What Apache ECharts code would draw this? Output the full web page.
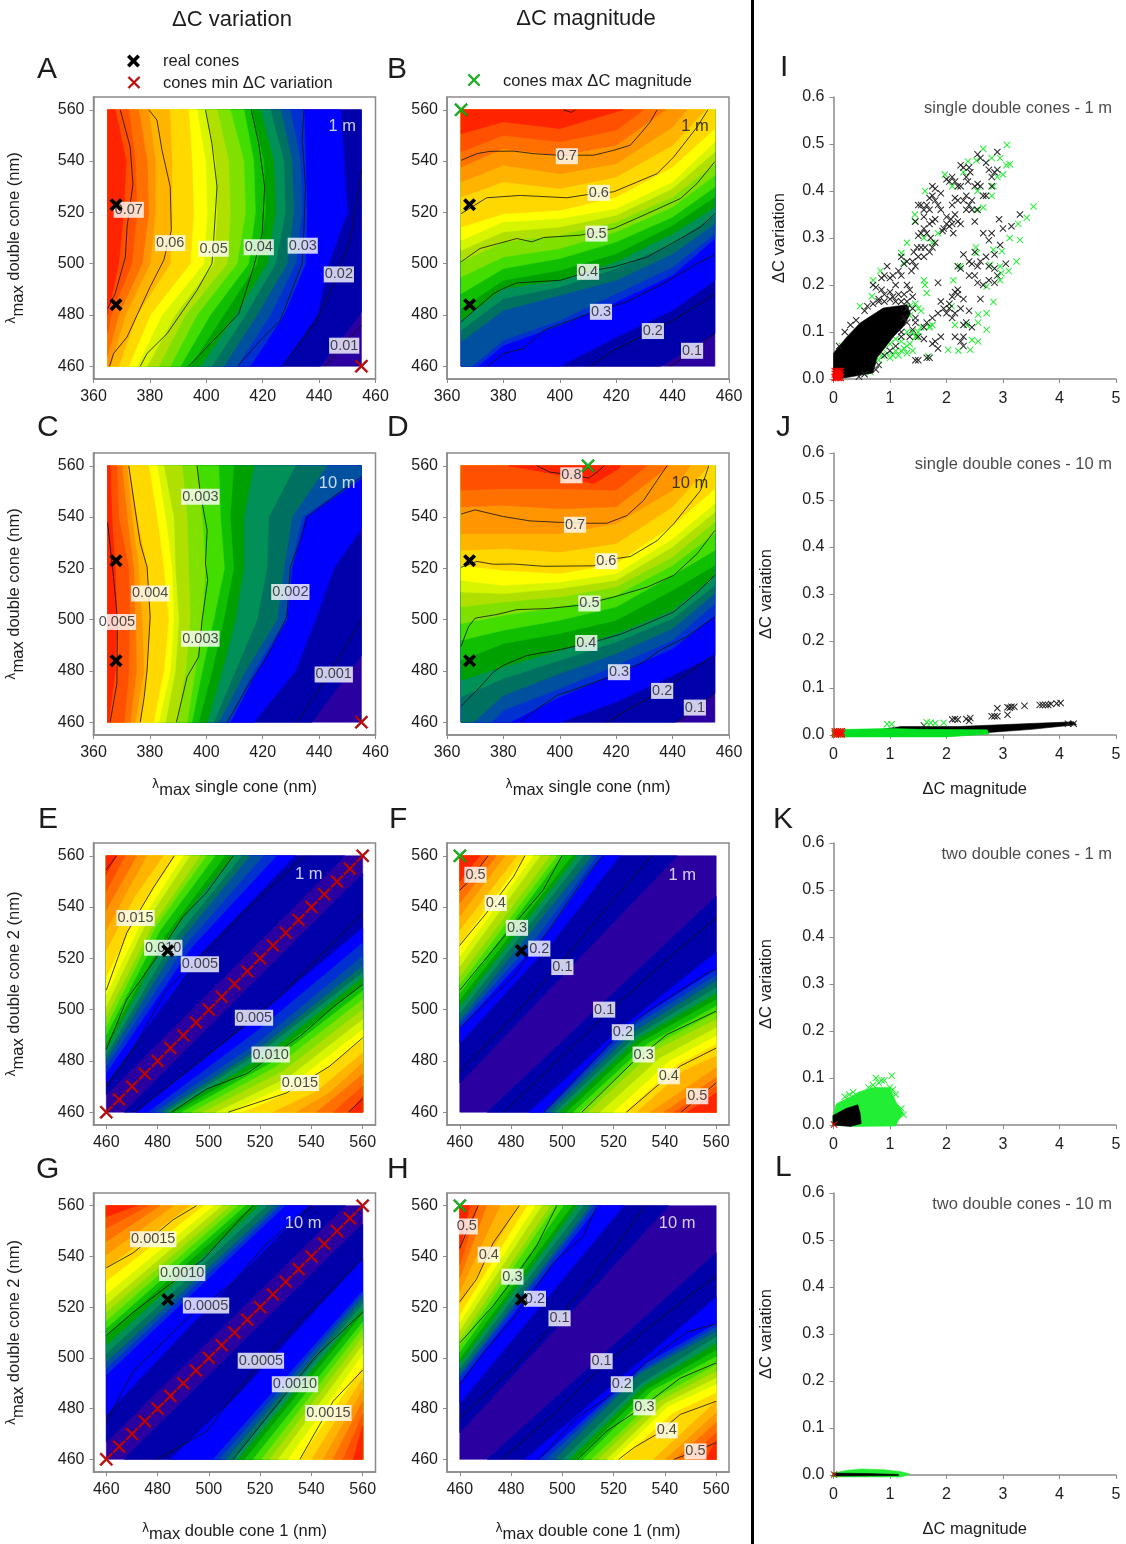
<!DOCTYPE html>
<html><head><meta charset="utf-8">
<style>html,body{margin:0;padding:0;background:#fff}#c{width:1126px;height:1544px}</style>
<script src="https://cdn.jsdelivr.net/npm/echarts@6/dist/echarts.min.js"></script>
</head><body><div id="c"></div>
<script>
// ---------- band colours (high value to low value) ----------
const bandColors=['#ff2400','#ff5000','#ff7000','#ff9500','#ffb400','#ffd800','#ffff00','#d8f500','#b0e000','#80e000','#44dd00','#10c000','#00a000','#009058','#007060','#0050a0','#0030d0','#0000ff','#0000aa','#2a00a0'];
const nmTicksSingle=[360,380,400,420,440,460];
const nmTicksDouble=[460,480,500,520,540,560];
const dcMagTicks=[0,1,2,3,4,5];
const dcVarTicks=[0,0.1,0.2,0.3,0.4,0.5,0.6];

// ---------- Panel A: x of each band boundary at y = 560..460 ----------
const A_rows=[560,540,520,500,480,460];
const A_bands=[
[367.7,371.6,370.7,368.9,365,null],
[372.5,374.8,375.4,373.6,366.2,[365,473]],
[376,379,379.6,377.2,368.9,[365,464]],
[379.5,381.9,381.9,380.1,371.3,366],
[387,387.8,387.8,387.2,375.4,368.9],
[393.7,394.9,395.5,394.3,380.1,372.5],
[396.7,399.7,400.3,399.1,384.3,375.4],
[399.7,403.2,403.8,402.6,389,379],
[403.8,407.9,408.5,407.4,392.6,383.1],
[408.5,413.3,413.9,410.9,396.7,387.2],
[413.3,416.8,417.4,415,401.4,390.8],
[415.9,420.4,421,418,406.2,394.3],
[419.2,423.9,424.5,421.5,410.3,397.9],
[422.7,427.5,428,424.5,413.9,402],
[426.3,430.4,431,428.6,418,406.2],
[429.8,433.4,434,431.6,422.7,410.9],
[434.6,435.2,435.7,435.2,427.5,415.6],
[447.6,448.8,450,443.4,439.3,426.9],
[null,null,null,null,[455,481],440.5]];
const A_lines=[
[[369.5,560],[373,545.5],[374,531],[371.9,514.3],[371.3,502.6],[367.7,488.3],[365,482.5]],
[[379.6,560],[382.5,556],[384.3,544.2],[387.2,530],[387.6,513],[384.9,501.3],[380.1,491],[371.9,471.4],[367.1,464.9],[365.7,460]],
[[399.7,560],[402,546.8],[403.8,530],[402.6,509],[402,500],[396.7,489.6],[386.1,472.7],[379,465],[376.6,460]],
[[415.9,560],[418.6,546.8],[420.7,530],[419.8,511.7],[416.8,498.7],[411.5,480.5],[402.6,470.1],[393.7,460]],
[[434.6,560],[434,548],[435.2,530],[434.6,513],[434,500],[426.3,478],[419.2,470.1],[411.1,460]],
[[455,536.4],[451.1,509],[445.2,492.2],[439.3,478],[426.9,460]],
[[442.3,460],[455,476]]];
const A_labels=[[372.5,521,'0.07'],[387.2,508,'0.06'],[402.6,505.8,'0.05'],[418.6,506.4,'0.04'],[434.2,507,'0.03'],[447,495.8,'0.02'],[448.9,468,'0.01']];

// ---------- Panel B: y of each band boundary at x = 365..455 ----------
const B_cols=[365,380,400,420,440,455];
const B_bands=[
[550.7,555.3,552.7,559.2,[422.5,560],null],
[543.6,550.1,547.5,552,[429.8,560],null],
[537.7,544.9,542.3,546.2,[437.5,560],null],
[531.9,538.4,535.1,539,553.3,[445,560]],
[526,531.9,529.3,533.8,546.2,[451.7,560]],
[514.3,519.5,520.8,526,537.7,552.7],
[509.1,516.3,517.6,521.5,531.9,547.5],
[505.2,512.4,514.3,518.9,529.3,543.6],
[500.7,508.5,511.1,516.3,526,539],
[494.8,502.6,505.9,512.4,522.1,534.5],
[488.3,498.1,502,508.5,518.2,529.9],
[482.5,493.5,497.4,503.9,515,526],
[477.9,490.3,493.5,500.7,511.7,522.1],
[474,486.4,490.9,498.1,507.8,518.9],
[469.5,481.8,487.7,493.5,503.9,515.6],
[[368.8,460],470.1,477.9,488.3,498.7,511.7],
[[371,460],468.2,476,485.1,495.5,509.8],
[null,null,[400,460],471.4,481.8,493.5],
[null,null,null,null,[435.7,460],472.7]];
const B_lines=[
[[365,540.3],[370.6,542.9],[375.3,543.8],[383.6,543.9],[390.7,542.9],[399,542.3],[412,542.3],[419.1,544.2],[425,546.2],[428.6,550.7],[432.1,555.3],[434.5,560]],
[[365,519.5],[374.1,525.7],[386,526.6],[402.5,525.7],[412,527.3],[419.1,528],[434.5,535.1],[440.4,541.6],[448.7,553.3],[452.5,560]],
[[365,500.7],[371.7,505.9],[384.8,509.8],[390.1,508.5],[394.3,510.2],[407.3,511.1],[419.1,513.7],[431,519.5],[442.8,525.4],[448.7,531.3],[455,539.8]],
[[365,477.3],[376.5,488.3],[380,490.3],[384.8,492.5],[400.2,493.5],[412,497.4],[419.1,498.7],[431,502.6],[442.8,509.8],[449.9,514.3],[455,519.5]],
[[374.5,460],[380,464.9],[387.1,466.9],[394.3,474],[402.5,477.3],[412,481.2],[423.8,485.1],[436.8,492.3],[448.7,500],[455,503.5]],
[[411,460],[419.1,466.2],[428.6,471.4],[439.2,477.3],[448.7,483.8],[455,488.3]],
[[439.2,460],[445.7,464.9],[455,472.7]],
[[401.2,560],[404.1,559],[405.5,560]]];
const B_labels=[[402.5,541.9,'0.7'],[413.8,527.6,'0.6'],[413,511.7,'0.5'],[410,496.8,'0.4'],[414.6,481.2,'0.3'],[433,473.7,'0.2'],[446.9,466,'0.1']];

// ---------- Panel C ----------
const C_rows=[560,540,520,500,480,460];
const C_bands=[
[365.9,366.5,367.7,368.3,367.7,365.4],
[368.3,368.9,372.5,372.8,372.5,370.9],
[370.1,371.9,374.2,374.8,375.2,373],
[371.9,373.6,376,377.2,377.8,374.8],
[372.5,375.4,379,380.1,379,376.6],
[379.6,382.5,384.9,386.6,384.9,381.3],
[382.5,385.5,387.8,388.4,387.2,383.1],
[384.9,388.4,389,390.2,389,385.5],
[391.4,393.2,393.7,394.3,392.6,389.6],
[396.7,398.5,399.7,398.5,396.1,393.2],
[404.4,405,406.4,402.6,398.5,394.9],
[409.7,408.5,409.7,406.2,402,397.3],
[416.8,413.3,413.3,410.3,405.6,400.3],
[431.6,422.1,421.5,418,410.3,402.6],
[442.8,430.4,427.5,425.1,413.9,404.4],
[[455,556],434,429.8,428,416.8,407.6],
[[455,555],435.2,430.4,428.6,418,408.5],
[null,[455,535.5],445.2,438.7,431.6,416.8],
[null,null,null,null,[455,486],437.5]];
const C_lines=[
[[365,537.9],[367.1,516.7],[368.5,500],[368.3,475.1],[365.9,460]],
[[372.5,560],[374.8,542.7],[376.6,529.7],[379,520.6],[380.1,501.1],[379,480.3],[378,469.9],[376.6,460]],
[[396.7,560],[397.9,549.2],[400.3,534.9],[399.7,521.9],[400.5,515.4],[398.5,499.8],[397.3,485.5],[393.2,477.7],[389.4,460]],
[[455,555.7],[445.2,547.9],[435.7,540.1],[433.4,531],[429.8,520.6],[428.6,501.1],[421.5,485.5],[414.5,473.8],[407.4,460]],
[[455,499.8],[448.8,488.1],[440.5,473.8],[432.2,460]]];
const C_labels=[[397.9,547.9,'0.003'],[380.1,510.2,'0.004'],[368.3,499.1,'0.005'],[397.9,492.5,'0.003'],[429.8,510.8,'0.002'],[445.2,478.6,'0.001']];

// ---------- Panel D ----------
const D_cols=[365,380,400,420,440,455];
const D_bands=[
[[381.8,560],[392,558],[402,556],[412,553],[421,559],[421.5,560]],
[550.5,551.1,551.1,550.5,[431,560],null],
[544,544.6,543.3,544,[438.9,560],null],
[533.6,533.6,533.6,537.5,550.5,[446.3,560]],
[527.1,527.7,526.4,529.7,544,[452.9,560]],
[521.2,519.3,518,521.9,536.8,551.1],
[515.4,513.4,514.7,518,531.6,545.3],
[510.8,510.2,512.1,515.4,528.4,542],
[505,506.9,508.9,512.8,524.5,538.1],
[498.5,501.7,505,509.5,521.2,533.6],
[492,495.9,499.8,505,517.3,527.1],
[484.2,490.7,494.6,499.8,511.5,521.2],
[476.4,481.6,488.1,494.6,503.7,517.3],
[469.9,477,484.2,491.3,500.4,513.4],
[[369.4,460],470.5,479,486.8,496.5,510.2],
[[375.9,460],464.7,473.1,482.2,492,506.3],
[[382.4,460],null,469.9,479,488.7,501.7],
[null,null,[400,460],467.9,478.3,486.1],
[null,null,null,null,[441,460],471.2]];
const D_lines=[
[[391.9,560],[396.6,557.5],[403.7,556.6],[410.3,555.2],[413.2,557.5],[415.8,560]],
[[365,541.2],[370,542.8],[380,540.2],[389.5,538.5],[399,538],[409.6,537.6],[416.7,537.6],[423.8,540.6],[429.7,546.5],[434.5,554.3],[438,560]],
[[365,520.4],[370.6,522.7],[376.5,521.6],[383.6,521.7],[394.3,520.8],[412,521],[419.1,523.7],[425,524.6],[434.5,530.8],[440.4,537.4],[449.9,550.4],[452.8,560]],
[[365,489.6],[367.6,497.2],[370,500.6],[377.7,502],[384.8,503.9],[395.4,504.3],[407.3,505.6],[419.1,508.8],[431,512.7],[440.4,517.3],[448.7,525.7],[455,534.8]],
[[365,466.2],[371.7,473.7],[376.5,479.6],[380,482.2],[388.3,486],[400.2,488.3],[412,491.3],[421.5,494.3],[431,498.5],[440.4,503],[448.7,510.6],[455,517.3]],
[[386.2,460],[392.1,465.3],[399.2,470.5],[411,475],[419.1,478.3],[429.7,483.5],[435.6,488.1],[445,493.3],[455,501.1]],
[[416.7,460],[423.8,464.7],[436.8,472.5],[448.7,481.6],[455,486.5]],
[[441.6,460],[448.7,465.3],[455,471.4]]];
const D_labels=[[404.1,556.3,'0.8'],[405.4,537,'0.7'],[416.5,522.8,'0.6'],[410.5,506.3,'0.5'],[409.4,490.9,'0.4'],[421,479.5,'0.3'],[436.3,472.2,'0.2'],[447.9,465.7,'0.1']];

// ---------- Panel E: [x on top, mid x, mid y, ..., y on left] and [x on bottom, mid x, mid y, ..., y on right] ----------
const E_upper=[[464,552.7],[467.3,546.2],[471.8,539],[475.7,531.2],[482.2,471,544,523.4],[486.8,473,539,513],[490,475,537,505.9],[492.6,476,535,501.3],[496.5,478,533,497.4],[499,479,532,493.5],[502.4,481,531,490.3],[506.3,483,529,487],[509.5,490,536,479,520,484.4],[512.8,486,527,482.5],[516,488,526,480.5],[521.2,491,525.5,478],[526.4,493,524,475.3],[533.6,497,522,471.4],[553,466.8]];
const E_lower=[[555,466.2],[548.5,470.1],[542,474.7],[534.2,547,467.5,479.2],[525.1,542,468,483.1],[513.4,536,469.5,488.3],[508.2,534,472,492.2],[503,531,473.5,496.1],[497.8,529,476,500],[493.3,526,477.5,503.9],[489.4,524,479,507.2],[486.8,523,480.5,509.8],[484.8,522,482,512.4],[483.3,521,484,514.3],[481.6,520,485,516.9],[479,519,487,520.8],[476.4,518,491,526],[471.8,515,494,531.9],[466.9,553]];
const E_lines=[
[[464,560],[460,554.6]],
[[486.5,560],[478.3,547.5],[468,530],[460,507.6]],
[[509.5,560],[499,545.5],[490,536.4],[479,519.5],[468,504],[460,484.5]],
[[537.5,560],[516,540.2],[496.5,520.8],[483.5,507.8],[470.5,484.4],[460,470.1]],
[[554.4,460],[560,465.2]],
[[507.6,460],[530.3,467.5],[547.2,478],[560,489]],
[[485.5,460],[499,469],[514.7,475],[535.5,489.6],[548.5,501],[560,509.8]],
[[471.2,460],[499,481.8],[526.4,504],[560,537.7]]];
const E_labels=[[471.4,535.7,'0.015'],[482.2,524.1,'0.010'],[496.5,517.7,'0.005'],[517.6,496.8,'0.005'],[524.1,482.5,'0.010'],[535.5,471.4,'0.015']];

// ---------- Panel F ----------
const F_upper=[[467.8,550],[471.1,546.2],[474.3,541.6],[477.6,536.4],[482.2,531.2],[485.4,525.4],[488.7,520.8],[491.3,516.9],[495.2,513],[497.8,509.8],[499.8,506.5],[503.7,503.9],[505.6,501.3],[508.2,498.7],[511.5,496.1],[513.5,492,531,494.6],[515.4,494,530,492.9],[522.3,497,527.5,487],[544.8,471.4]];
const F_lower=[[548.7,467.5],[543.5,470.1],[539.5,473.4],[534.3,477.3],[529.1,547,476,481.8],[524.5,545,478.5,486.4],[520,542,480,489.6],[514.8,538,481,492.9],[510.2,536,484,496.1],[506.9,534,485,498.7],[504.3,533,486.5,501.3],[501.7,531,487.5,503.9],[499.1,530,489,506.2],[497.2,529,490,508.5],[495.2,528,491.5,511.1],[493.5,527,493,513.3],[492.6,526,494,515.6],[487,522,492,522.4],[470.7,544.2]];
const F_lines=[
[[471.1,560],[462.9,549.4],[460,546.6]],
[[485.4,560],[480.9,551.8],[470.4,537.7],[460,525.1]],
[[499.8,560],[492.6,546.8],[486,539],[473,523.4],[460,507.6]],
[[515.7,560],[508.2,550.7],[493.9,530],[480.9,513],[471.7,504],[460,492.9]],
[[535,560],[520,543],[501.7,520.8],[480.9,497.4],[460,475.7]],
[[546.3,460],[560,471.4]],
[[525,460],[546,478],[560,485]],
[[507.6,460],[527,479],[540.8,490.3],[560,499.4]],
[[492.9,460],[520,488.3],[534.3,500],[556.5,514.3],[560,515.6]],
[[477.2,460],[512,493.5],[540.8,519.5],[560,535.8]]];
const F_labels=[[466.1,552.6,'0.5'],[474,541.6,'0.4'],[482.3,531.9,'0.3'],[491,523.8,'0.2'],[500,516.6,'0.1'],[516.3,500,'0.1'],[523.6,491.2,'0.2'],[531.7,482.5,'0.3'],[541.5,474,'0.4'],[552.6,466.2,'0.5']];

// ---------- Panel G ----------
const G_upper=[[471.8,555.7],[476.4,551.1],[480.9,545.9],[486.1,540.7],[492.6,535.5],[497.8,530.3],[501.7,525.1],[505,521.2],[508.2,518],[511.1,514.7],[514.1,511.7],[516.7,508.9],[519.3,505],[522.5,501.7],[525.8,498.5],[527.7,495.9],[529.7,493.3],[538.8,492,512,477.7],[553.2,466.8]];
const G_lower=[[556.3,473.1],[552.4,477.7],[548.5,482.9],[544.6,487.4],[540.1,492],[535.5,496.5],[531,501.1],[527.1,505],[523.8,508.2],[520.6,511.5],[517.3,514.1],[514.1,517.3],[511.5,519.3],[509.5,521.2],[506.9,523.2],[504.3,525.1],[501.7,526.4],[484.8,512,486,538.8],[466.9,552.8]];
const G_lines=[
[[495.2,560],[486,554.4],[470.5,541.4],[460,535.5]],
[[517.3,560],[509.5,551.8],[497.8,538.8],[482.2,527],[470.5,518],[460,508.9]],
[[540,560],[522.5,545],[509.5,529.7],[491.3,515.4],[470.5,494.6],[460,475]],
[[535.5,460],[543.3,473.8],[548.5,482.9],[560,495.2]],
[[509.5,460],[522.5,476.4],[531.6,488],[542,501],[560,518]],
[[479.6,460],[499,471],[512,488],[525,503.7],[560,539.4]]];
const G_labels=[[478.3,546.8,'0.0015'],[489.6,533.5,'0.0010'],[498.9,520.6,'0.0005'],[520.3,498.9,'0.0005'],[533.6,489.6,'0.0010'],[546.6,478.3,'0.0015']];

// ---------- Panel H ----------
const H_upper=[[463.9,542.7],[467.2,536.8],[470.4,531.6],[475.6,526.4],[482.8,521.2],[486.1,517.3],[489.3,514.1],[491.9,510.8],[495.2,507.6],[497.2,505],[500.4,502.4],[503.7,499.8],[505.6,497.8],[508.2,495.9],[510.9,493.9],[512.2,492.6],[514.1,490.7],[523.9,482.2],[541.5,470.5]];
const H_lower=[[555.8,467.3],[549.3,470.5],[544.1,474.4],[540.2,478.3],[535.6,482.9],[523.2,543,478,486.1],[520,541,480.5,489.4],[517.4,540,482,492],[514.1,538,483,494.6],[511.5,537,484.5,497.2],[508.2,535,487,500.4],[505.6,533,487.5,503],[503,532,489,505.6],[500.4,531,490,508.2],[497.2,530,493.5,510.2],[493.9,530,494.5,512.1],[491.3,533,498,513.4],[485.4,523.8],[470.7,541.4]];
const H_lines=[
[[467.2,560],[463.6,551.8],[460,543.3]],
[[483.2,560],[473,545.3],[466.5,531],[460,522.2]],
[[497.8,560],[489.9,544],[480.9,531],[473,520.6],[460,505.9]],
[[513.5,560],[508.2,547.9],[496.5,537.5],[480.9,515.4],[470.4,503.6],[460,489.6]],
[[532.4,560],[513.5,533.6],[493.9,510.2],[480.9,495.9],[460,476.4]],
[[543.5,460],[552.6,463.4],[560,466.6]],
[[522,460],[528,464.7],[537,470],[546,477.7],[560,482.9]],
[[506,460],[517.4,471.2],[529,479],[546,492],[560,498]],
[[491,460],[505.6,476.4],[517.4,484.2],[533,498.5],[548.7,510.2],[560,513.4]],
[[476.3,460],[496.5,477.7],[512.2,493.3],[533,511.5],[560,532.5]]];
const H_labels=[[462.7,551.8,'0.5'],[471.3,540.7,'0.4'],[480.5,532,'0.3'],[489.3,523.3,'0.2'],[498.9,515.6,'0.1'],[515.3,498.7,'0.1'],[523.2,489.6,'0.2'],[532,480.5,'0.3'],[540.7,471.4,'0.4'],[551.9,463.1,'0.5']];

// ---------- cone markers ----------
const realSingle=[[368,523],[368,484]];
const realDouble=[[484,523]];
const minSingle=[[455,460]];
const minDouble=[[460,460],[465,465],[470,470],[475,475],[480,480],[485,485],[490,490],[495,495],[500,500],[505,505],[510,510],[515,515],[520,520],[525,525],[530,530],[535,535],[540,540],[545,545],[550,550],[555,555],[560,560]];
const maxB=[[365,560]];
const maxD=[[410,560]];
const maxFH=[[460,560]];

// ---------- scatter panels (magnitude, variation) ----------
const I_green=[[3.07,0.498],[2.65,0.49],[2.95,0.47],[2.8,0.47],[3.12,0.457],[3.06,0.455],[2.53,0.465],[2.38,0.463],[3,0.435],[2.9,0.43],[2.83,0.41],[2.8,0.39],[2.65,0.365],[2.53,0.36],[1.97,0.435],[1.62,0.4],[1.44,0.35],[1.44,0.335],[1.6,0.3],[1.2,0.268],[1.24,0.247],[0.83,0.23],[1.6,0.21],[1.62,0.2],[1.65,0.183],[0.7,0.21],[0.68,0.176],[0.47,0.155],[2.52,0.28],[2.53,0.268],[2.83,0.275],[2.98,0.272],[2.77,0.243],[2.95,0.24],[3.1,0.23],[3.24,0.25],[2.97,0.225],[2.95,0.21],[2.71,0.197],[2.83,0.164],[2.71,0.14],[2.56,0.137],[2.56,0.12],[2.71,0.105],[2.36,0.115],[2.15,0.115],[2.45,0.083],[2.56,0.08],[2.42,0.062],[2.21,0.06],[2.03,0.062],[1.68,0.048],[1.47,0.09],[1.7,0.112],[2.09,0.155],[2.12,0.21],[2.24,0.24],[3.27,0.33],[3.42,0.343],[3.54,0.367],[3.12,0.3],[3.3,0.296],[2.1,0.41],[2.3,0.44],[2.55,0.4],[1.75,0.29],[1.85,0.31],[1.3,0.29],
[0.5,0.02],[0.65,0.015],[0.8,0.04],[0.85,0.05],[0.95,0.055],[1,0.045],[1.05,0.05],[1.1,0.06],[1.15,0.05],[1.2,0.06],[1.25,0.065],[1.3,0.055],[1.3,0.07],[1.35,0.075],[1.4,0.06],[1.45,0.09],[1.5,0.1],[1.55,0.11],[1.7,0.11],[1.75,0.115],[1.3,0.1],[1.4,0.1],[0.9,0.07],[1,0.075],[1.1,0.085],[1.2,0.08],[1.35,0.135],[1.35,0.155],[1.55,0.145],[1.45,0.16],[1.5,0.15],[0.15,0.07]];
const I_black=[[2.55,0.478],[2.9,0.483],[2.6,0.47],[2.85,0.44],[2.9,0.445],[2.75,0.445],[2.25,0.455],[2.3,0.45],[2.4,0.45],[2.42,0.44],[2.35,0.43],[2.38,0.42],[2.7,0.46],[2.8,0.43],[2.55,0.415],[2.6,0.41],[2.5,0.41],[2.65,0.39],[2.7,0.39],[2.8,0.41],[2.1,0.43],[2.15,0.42],[2,0.425],[2.05,0.42],[2.2,0.41],[2.25,0.41],[1.75,0.41],[1.8,0.405],[1.7,0.385],[1.75,0.39],[1.8,0.38],[1.85,0.37],[1.9,0.395],[1.65,0.37],[1.7,0.36],[1.6,0.36],[1.5,0.37],[1.55,0.37],[1.6,0.345],[1.45,0.335],[2.1,0.37],[2.15,0.385],[2.2,0.38],[2.3,0.38],[2.35,0.39],[2.4,0.37],[2.45,0.38],[2.35,0.36],[2.45,0.36],[2.55,0.36],[2.5,0.335],[2,0.33],[2.05,0.325],[2.1,0.33],[2.08,0.34],[2.12,0.31],[1.95,0.32],[1.93,0.315],[2.2,0.335],[2.25,0.33],[2.15,0.35],[1.7,0.33],[1.75,0.335],[1.8,0.34],[1.72,0.3],[1.6,0.32],[1.65,0.31],[1.55,0.31],[1.5,0.305],[1.9,0.36],[2,0.345],[1.8,0.29],[1.7,0.27],[1.75,0.28],[1.62,0.28],[1.55,0.28],[1.48,0.28],[1.42,0.27],[1.4,0.25],[1.45,0.24],[1.38,0.23],[1.5,0.26],[1.6,0.26],[1.2,0.26],[1.25,0.245],[1.3,0.25],[1.15,0.23],[1.2,0.22],[0.95,0.24],[0.9,0.22],[0.85,0.215],[1,0.215],[1.1,0.2],[1.05,0.22],[0.7,0.2],[0.75,0.195],[0.85,0.19],[1.3,0.2],[1.35,0.19],[1.4,0.175],[1.25,0.18],[1.15,0.18],
[3.3,0.35],[3.15,0.325],[3,0.32],[2.93,0.34],[2.65,0.31],[2.8,0.31],[2.75,0.295],[2.95,0.285],[2.3,0.265],[2.7,0.26],[2.85,0.265],[2.5,0.27],[2.4,0.25],[2.45,0.245],[2.55,0.24],[2.25,0.235],[2.2,0.24],[2.4,0.22],[2.5,0.22],[2.6,0.25],[2.75,0.24],[2.85,0.235],[3.05,0.245],[2.9,0.22],[2.55,0.205],[2.65,0.2],[2.75,0.21],[2.85,0.205],[2.6,0.17],[2.2,0.19],[2.15,0.185],[2.1,0.175],[2.2,0.18],[2.05,0.16],[2.3,0.17],[2.25,0.15],[1.85,0.205],[1.9,0.165],[1.95,0.15],[2,0.14],[2.05,0.15],[1.85,0.14],[1.75,0.13],[2.15,0.14],[2.1,0.13],[2.4,0.145],[2.45,0.11],[2.35,0.12],[2.3,0.115],[2.15,0.09],[2.3,0.09],[2.25,0.08],[2.3,0.07],[1.9,0.09],[1.85,0.065],[1.8,0.08],[1.75,0.075],[1.6,0.11],[1.65,0.12],[1.45,0.12],[1.5,0.09],[1.6,0.085],[1.45,0.04],[1.5,0.04],[1.65,0.045],[1.7,0.045],[1.35,0.09],[1.4,0.105],[1.25,0.13],[1.3,0.15],[1.2,0.1],
[0.1,0.07],[0.2,0.1],[0.3,0.115],[0.4,0.125],[0.55,0.145],[0.6,0.155],[0.7,0.16],[0.8,0.165],[0.9,0.165],[1,0.17],[1.1,0.165],[1.2,0.165],[1.3,0.165],[1.4,0.15],[1.45,0.13],[1.3,0.12],[1.2,0.09],[1.1,0.07],[1,0.06],[0.9,0.05],[0.8,0.03],[0.75,0.02],[0.55,0.01],[0.45,0.005],[0.9,0.18],[1,0.185],[1.05,0.175],[0.8,0.17]];
const I_cloud=[[0,0],[0,0.055],[0.24,0.09],[0.47,0.119],[0.88,0.151],[1.3,0.158],[1.36,0.14],[1.24,0.112],[1.06,0.09],[0.77,0.045],[0.7,0.013],[0.18,0.002]];
const I_red=[[0.03,0.003],[0.06,0.003],[0.09,0.003],[0.12,0.003],[0.03,0.01],[0.06,0.01],[0.09,0.01],[0.12,0.01],[0.03,0.016],[0.06,0.016],[0.09,0.016],[0.12,0.016]];
const J_black=[[3.85,0.066],[3.95,0.067],[4.02,0.068],[3.65,0.064],[3.7,0.064],[3.75,0.064],[3.8,0.064],[3.38,0.062],[3.2,0.06],[3.15,0.06],[3.08,0.059],[3.12,0.058],[2.9,0.057],[3.08,0.043],[2.8,0.04],[2.85,0.04],[2.9,0.04],[2.1,0.033],[2.15,0.034],[2.2,0.033],[2.35,0.034],[2.42,0.036],[2.4,0.03],[1.6,0.02],[4.25,0.024],[4.15,0.024]];
const J_green=[[0.95,0.023],[1.03,0.023],[1.65,0.027],[1.72,0.026],[1.8,0.025],[1.95,0.026]];
const J_blackBand=[[0.5,0.006],[1.2,0.018],[2.2,0.018],[3.6,0.025],[4.25,0.028],[4.3,0.022],[3.5,0.012],[2.7,0.005],[0.5,0.002]];
const J_greenBand=[[-0.02,0.012],[0.3,0.012],[1,0.014],[1.5,0.012],[2.72,0.011],[2.75,0.002],[2,-0.004],[-0.02,-0.004]];
const J_red=[[0.03,0.002],[0.07,0.002],[0.11,0.002],[0.14,0.002],[0.03,0.007],[0.07,0.007],[0.11,0.007],[0.14,0.007]];
const K_greenArea=[[-0.01,0],[-0.01,0.02],[0.05,0.045],[0.3,0.06],[0.45,0.07],[0.7,0.08],[1,0.08],[1.1,0.05],[1.24,0.025],[1.15,0.01],[1.1,-0.002],[0.4,-0.003]];
const K_green=[[1.03,0.105],[0.75,0.1],[0.85,0.095],[0.9,0.095],[0.8,0.09],[0.7,0.085],[0.62,0.08],[1,0.08],[1.05,0.075],[1.1,0.065],[0.35,0.07],[0.28,0.065],[0.2,0.06],[1.24,0.022],[1.2,0.035]];
const K_blackArea=[[-0.01,0],[-0.01,0.02],[0.22,0.035],[0.43,0.043],[0.47,0.025],[0.49,0.003],[0.3,-0.003]];
const K_red=[[0.01,0.001]];
const L_greenArea=[[-0.01,0.004],[0.25,0.01],[0.5,0.013],[0.9,0.011],[1.2,0.007],[1.35,0.002],[1.2,-0.004],[-0.01,-0.004]];
const L_blackArea=[[-0.01,0.004],[0.6,0.003],[1.15,0.001],[1.15,-0.001],[-0.01,-0.002]];
const L_red=[[0.01,0.001]];

// ---------- helpers ----------
const FONT='"Liberation Sans", Arial, sans-serif';
const TXT='#1c1c1c', GRAY='#8a8a8a';
const XTHICK='path://M2,0L5,3L8,0L10,2L7,5L10,8L8,10L5,7L2,10L0,8L3,5L0,2Z';
const XTHIN='path://M1,0L5,4L9,0L10,1L6,5L10,9L9,10L5,6L1,10L0,9L4,5L0,1Z';

function tableCurve(row,fixed,isRows){
  const out=[];
  row.forEach((v,i)=>{
    if(v===null)return;
    if(Array.isArray(v))out.push(v);
    else out.push(isRows?[v,fixed[i]]:[fixed[i],v]);
  });
  return out;
}
function closeHigh(pts,b){
  const W=b.x1-b.x0,H=b.y1-b.y0;
  const snap=p=>{
    const d=[Math.abs(p[0]-b.x0),Math.abs(p[1]-b.y1),Math.abs(p[0]-b.x1),Math.abs(p[1]-b.y0)];
    const m=d.indexOf(Math.min(...d));
    if(m===0)return (p[1]-b.y0)/H;
    if(m===1)return 1+(p[0]-b.x0)/W;
    if(m===2)return 2+(b.y1-p[1])/H;
    return 3+(b.x1-p[0])/W;
  };
  const cs=[[b.x0,b.y0],[b.x0,b.y1],[b.x1,b.y1],[b.x1,b.y0]];
  const tS=snap(pts[0]);let tE=snap(pts[pts.length-1]);
  let target=tS;if(target<=tE)target+=4;
  const res=pts.slice();
  for(let k=Math.floor(tE)+1;k<target;k++)res.push(cs[k%4]);
  return res;
}
function rect(b){return [[b.x0,b.y0],[b.x0,b.y1],[b.x1,b.y1],[b.x1,b.y0]];}
function tablePolys(bands,fixed,isRows,b){
  const polys=[{pts:rect(b),fill:bandColors[19]}];
  for(let i=bands.length-1;i>=0;i--){
    if(!bands[i])continue;
    let c=tableCurve(bands[i],fixed,isRows);
    if(!isRows)c=c.slice().reverse();
    polys.push({pts:closeHigh(c,b),fill:bandColors[i]});
  }
  return polys;
}
function flatCurve(f,first){
  const n=f.length,pts=[];
  pts.push(first==='top'?[f[0],560]:[f[0],460]);
  for(let i=1;i<n-1;i+=2)pts.push([f[i],f[i+1]]);
  pts.push(first==='top'?[460,f[n-1]]:[560,f[n-1]]);
  return pts;
}
function diagPolys(up,lo,b){
  const polys=[{pts:rect(b),fill:bandColors[19]}];
  for(let i=up.length-1;i>=0;i--){
    polys.push({pts:closeHigh(flatCurve(up[i],'top'),b),fill:bandColors[i]});
    polys.push({pts:closeHigh(flatCurve(lo[i],'bottom'),b),fill:bandColors[i]});
  }
  return polys;
}
function polySeries(g,polys,z){
  return {type:'custom',coordinateSystem:'cartesian2d',xAxisIndex:g,yAxisIndex:g,clip:false,silent:true,z:z,animation:false,
    data:polys.map((p,i)=>[p.pts[0][0],p.pts[0][1],i]),
    renderItem:(params,api)=>{
      const p=polys[api.value(2)];
      return {type:'polygon',shape:{points:p.pts.map(q=>api.coord(q))},style:{fill:p.fill,stroke:p.fill,lineWidth:0.6}};
    }};
}
function lineSeries(g,pts){
  return {type:'line',xAxisIndex:g,yAxisIndex:g,data:pts,showSymbol:false,symbol:'none',clip:false,silent:true,z:3,animation:false,lineStyle:{color:'#111',width:0.8}};
}
function labelSeries(g,items){
  return {type:'scatter',xAxisIndex:g,yAxisIndex:g,data:items,symbolSize:0,silent:true,z:4,clip:false,animation:false,
    label:{show:true,position:'inside',formatter:p=>p.value[2],color:TXT,fontFamily:FONT,fontSize:14.5,backgroundColor:'#fff',padding:[1,1,0,1]}};
}
function noteSeries(g,pos,color){
  return {type:'scatter',xAxisIndex:g,yAxisIndex:g,data:[[pos[0],pos[1],pos[2]]],symbolSize:0,silent:true,z:4,clip:false,animation:false,
    label:{show:true,position:'inside',formatter:p=>p.value[2],color:color,fontFamily:FONT,fontSize:16.5}};
}
function xSeries(g,pts,kind){
  const st={real:{s:XTHICK,size:13,c:'#000',b:'#000',w:0},
    min:{s:XTHIN,size:13,c:'#d80000',b:'#7a1010',w:0.7},
    max:{s:XTHIN,size:13,c:'#10c010',b:'#0a7a10',w:0.7}}[kind];
  return {type:'scatter',xAxisIndex:g,yAxisIndex:g,data:pts,symbol:st.s,symbolSize:st.size,silent:true,z:6,clip:false,animation:false,
    itemStyle:{color:st.c,borderColor:st.b,borderWidth:st.w,opacity:1}};
}
function dots(g,pts,color,size,z){
  return {type:'scatter',xAxisIndex:g,yAxisIndex:g,data:pts,symbol:XTHIN,symbolSize:size,silent:true,z:z,clip:false,animation:false,large:false,
    itemStyle:{color:color,opacity:1}};
}

const nameRich={a:{fontFamily:FONT,fontSize:16.5,color:TXT},l:{fontFamily:'"DejaVu Sans"',fontSize:12,color:TXT,padding:[0,0,5,0]},s:{fontFamily:FONT,fontSize:16.5,color:TXT,padding:[7,0,0,0]}};
function lam(t){return '{l|λ}{s|max}{a| '+t+'}';}

const grids=[],xAxes=[],yAxes=[],series=[];
function contourPanel(left,top,xr,xt,xName,xGap,yName,polys,lines,labels,note,noteColor,marks){
  const g=grids.length;
  grids.push({left:left,top:top,width:282,height:282,show:true,borderColor:GRAY,borderWidth:1.5,backgroundColor:'#fff'});
  const axisCommon={axisLine:{show:true,onZero:false,lineStyle:{color:GRAY,width:1.5}},splitLine:{show:false}};
  xAxes.push(Object.assign({},axisCommon,{gridIndex:g,type:'value',min:xr[0],max:xr[1],
    axisTick:{show:true,length:4,lineStyle:{color:GRAY,width:1},customValues:xt},
    axisLabel:{color:TXT,fontFamily:FONT,fontSize:16,margin:10,customValues:xt,hideOverlap:false,showMinLabel:true,showMaxLabel:true},
    name:xName||'',nameLocation:'middle',nameGap:xGap||0,nameTextStyle:{rich:nameRich}}));
  yAxes.push(Object.assign({},axisCommon,{gridIndex:g,type:'value',min:455,max:565,
    axisTick:{show:true,length:4,lineStyle:{color:GRAY,width:1},customValues:nmTicksDouble},
    axisLabel:{color:TXT,fontFamily:FONT,fontSize:16,margin:9,customValues:nmTicksDouble},
    name:yName||'',nameLocation:'middle',nameGap:67,nameRotate:90,nameTextStyle:{rich:nameRich}}));
  series.push(polySeries(g,polys,1));
  lines.forEach(l=>series.push(lineSeries(g,l)));
  series.push(labelSeries(g,labels));
  series.push(noteSeries(g,note,noteColor));
  marks.forEach(m=>series.push(xSeries(g,m[0],m[1])));
}
function scatterPanel(top,xName,title,gap,areas,layers){
  const g=grids.length;
  grids.push({left:833.5,top:top,width:282.5,height:282});
  const common={axisLine:{show:true,onZero:false,lineStyle:{color:GRAY,width:1.5}},splitLine:{show:false}};
  xAxes.push(Object.assign({},common,{gridIndex:g,type:'value',min:0,max:5,interval:1,
    axisTick:{show:true,length:4,lineStyle:{color:GRAY,width:1}},
    axisLabel:{color:TXT,fontFamily:FONT,fontSize:16,margin:12},
    name:xName||'',nameLocation:'middle',nameGap:46,nameTextStyle:{fontFamily:FONT,fontSize:16.5,color:TXT}}));
  yAxes.push(Object.assign({},common,{gridIndex:g,type:'value',min:0,max:0.6,interval:0.1,
    axisTick:{show:true,length:4,lineStyle:{color:GRAY,width:1}},
    axisLabel:{color:TXT,fontFamily:FONT,fontSize:16,margin:9,formatter:v=>v.toFixed(1)},
    name:'ΔC variation',nameLocation:'middle',nameGap:gap,nameRotate:90,nameTextStyle:{fontFamily:FONT,fontSize:16.5,color:TXT}}));
  areas.forEach(a=>series.push(polySeries(g,[{pts:a[0],fill:a[1]}],a[2])));
  layers.forEach(l=>series.push(dots(g,l[0],l[1],l[2],l[3])));
  series.push({type:'scatter',xAxisIndex:g,yAxisIndex:g,data:[[4.93,0.575,title]],symbolSize:0,silent:true,z:7,animation:false,clip:false,
    label:{show:true,position:'left',distance:0,formatter:p=>p.value[2],color:TXT,fontFamily:FONT,fontSize:16.5}});
}

const boxS={x0:365,x1:455,y0:460,y1:560};
const boxD={x0:460,x1:560,y0:460,y1:560};
const rS=[360,460],rD=[455,565];
const yS=lam('double cone (nm)'),yD=lam('double cone 2 (nm)');

contourPanel(93.5,97,rS,nmTicksSingle,'',0,yS,tablePolys(A_bands,A_rows,true,boxS),A_lines,A_labels,[448.2,553.6,'1 m'],'#fff',[[realSingle,'real'],[minSingle,'min']]);
contourPanel(447,97,rS,nmTicksSingle,'',0,'',tablePolys(B_bands,B_cols,false,boxS),B_lines,B_labels,[447.9,553.6,'1 m'],'#111',[[realSingle,'real'],[maxB,'max']]);
contourPanel(93.5,453,rS,nmTicksSingle,lam('single cone (nm)'),40,yS,tablePolys(C_bands,C_rows,true,boxS),C_lines,C_labels,[446.4,553.1,'10 m'],'#fff',[[realSingle,'real'],[minSingle,'min']]);
contourPanel(447,453,rS,nmTicksSingle,lam('single cone (nm)'),40,'',tablePolys(D_bands,D_cols,false,boxS),D_lines,D_labels,[446.1,553,'10 m'],'#111',[[realSingle,'real'],[maxD,'max']]);
contourPanel(93.5,843,rD,nmTicksDouble,'',0,yD,diagPolys(E_upper,E_lower,boxD),E_lines,E_labels,[539,552.7,'1 m'],'#fff',[[minDouble,'min'],[realDouble,'real']]);
contourPanel(447,843,rD,nmTicksDouble,'',0,'',diagPolys(F_upper,F_lower,boxD),F_lines,F_labels,[546.8,552.3,'1 m'],'#fff',[[realDouble,'real'],[maxFH,'max']]);
contourPanel(93.5,1193,rD,nmTicksDouble,lam('double cone 1 (nm)'),47,yD,diagPolys(G_upper,G_lower,boxD),G_lines,G_labels,[536.8,553.1,'10 m'],'#fff',[[minDouble,'min'],[realDouble,'real']]);
contourPanel(447,1193,rD,nmTicksDouble,lam('double cone 1 (nm)'),47,'',diagPolys(H_upper,H_lower,boxD),H_lines,H_labels,[544.8,552.8,'10 m'],'#fff',[[realDouble,'real'],[maxFH,'max']]);

const GREEN='#22ee33';
scatterPanel(97,'','single double cones - 1 m',46,[[I_cloud,'#000',6]],[[I_green,GREEN,7,5],[I_black,'#222',7,6],[I_red,'#ff0000',8,8]]);
scatterPanel(453,'ΔC magnitude','single double cones - 10 m',59,[[J_blackBand,'#000',5],[J_greenBand,'#00e020',6]],[[J_black,'#222',7,5],[J_green,GREEN,7,6],[J_red,'#ff0000',8,8]]);
scatterPanel(843,'','two double cones - 1 m',59,[[K_greenArea,GREEN,5],[K_blackArea,'#000',6]],[[K_green,GREEN,7,5],[K_red,'#e00000',7,8]]);
scatterPanel(1193,'ΔC magnitude','two double cones - 10 m',59,[[L_greenArea,GREEN,5],[L_blackArea,'#000',6]],[[L_red,'#c83000',7,8]]);

function t(x,y,text,size,align){
  return {type:'text',x:x,y:y,silent:true,style:{text:text,x:0,y:0,fontFamily:FONT,fontSize:size,fill:TXT,align:align||'left',verticalAlign:'middle'}};
}
function legendX(cx,cy,r,h,fill,stroke){
  const pts=[[-r,-r+h],[-h,-h+0],[0,-h*1.0]];
  const a=r,b=h;
  const poly=[[-a+b,-a],[0,-b],[a-b,-a],[a,-a+b],[b,0],[a,a-b],[a-b,a],[0,b],[-a+b,a],[-a,a-b],[-b,0],[-a,-a+b]];
  return {type:'polygon',silent:true,shape:{points:poly.map(p=>[cx+p[0],cy+p[1]])},style:{fill:fill,stroke:stroke,lineWidth:stroke?0.6:0}};
}
const letters=[['A',37,70],['B',387,70],['C',37,428],['D',387,428],['E',38,820],['F',389,820],['G',36,1170],['H',387,1170],['I',780,68],['J',776,428],['K',773,820],['L',775,1168]];
const graphics=[
  {type:'rect',silent:true,shape:{x:751,y:0,width:3,height:1544},style:{fill:'#000'}},
  t(232,20,'ΔC variation',22,'center'),
  t(586,19,'ΔC magnitude',22,'center'),
  t(163,61,'real cones',16.5),
  t(163,83,'cones min ΔC variation',16.5),
  t(503,81,'cones max ΔC magnitude',16.5),
  legendX(133.5,61,6.5,2.6,'#000',null),
  legendX(134,82.5,6,1.2,'#d80000','#7a1010'),
  legendX(474,80,6,1.2,'#10c010','#0a7a10')
].concat(letters.map(l=>t(l[1],l[2],l[0],30)));

const chart=echarts.init(document.getElementById('c'),null,{renderer:'canvas'});
chart.setOption({animation:false,backgroundColor:'#fff',tooltip:{show:false},legend:{show:false},grid:grids,xAxis:xAxes,yAxis:yAxes,series:series,graphic:{elements:graphics}});
</script></body></html>
